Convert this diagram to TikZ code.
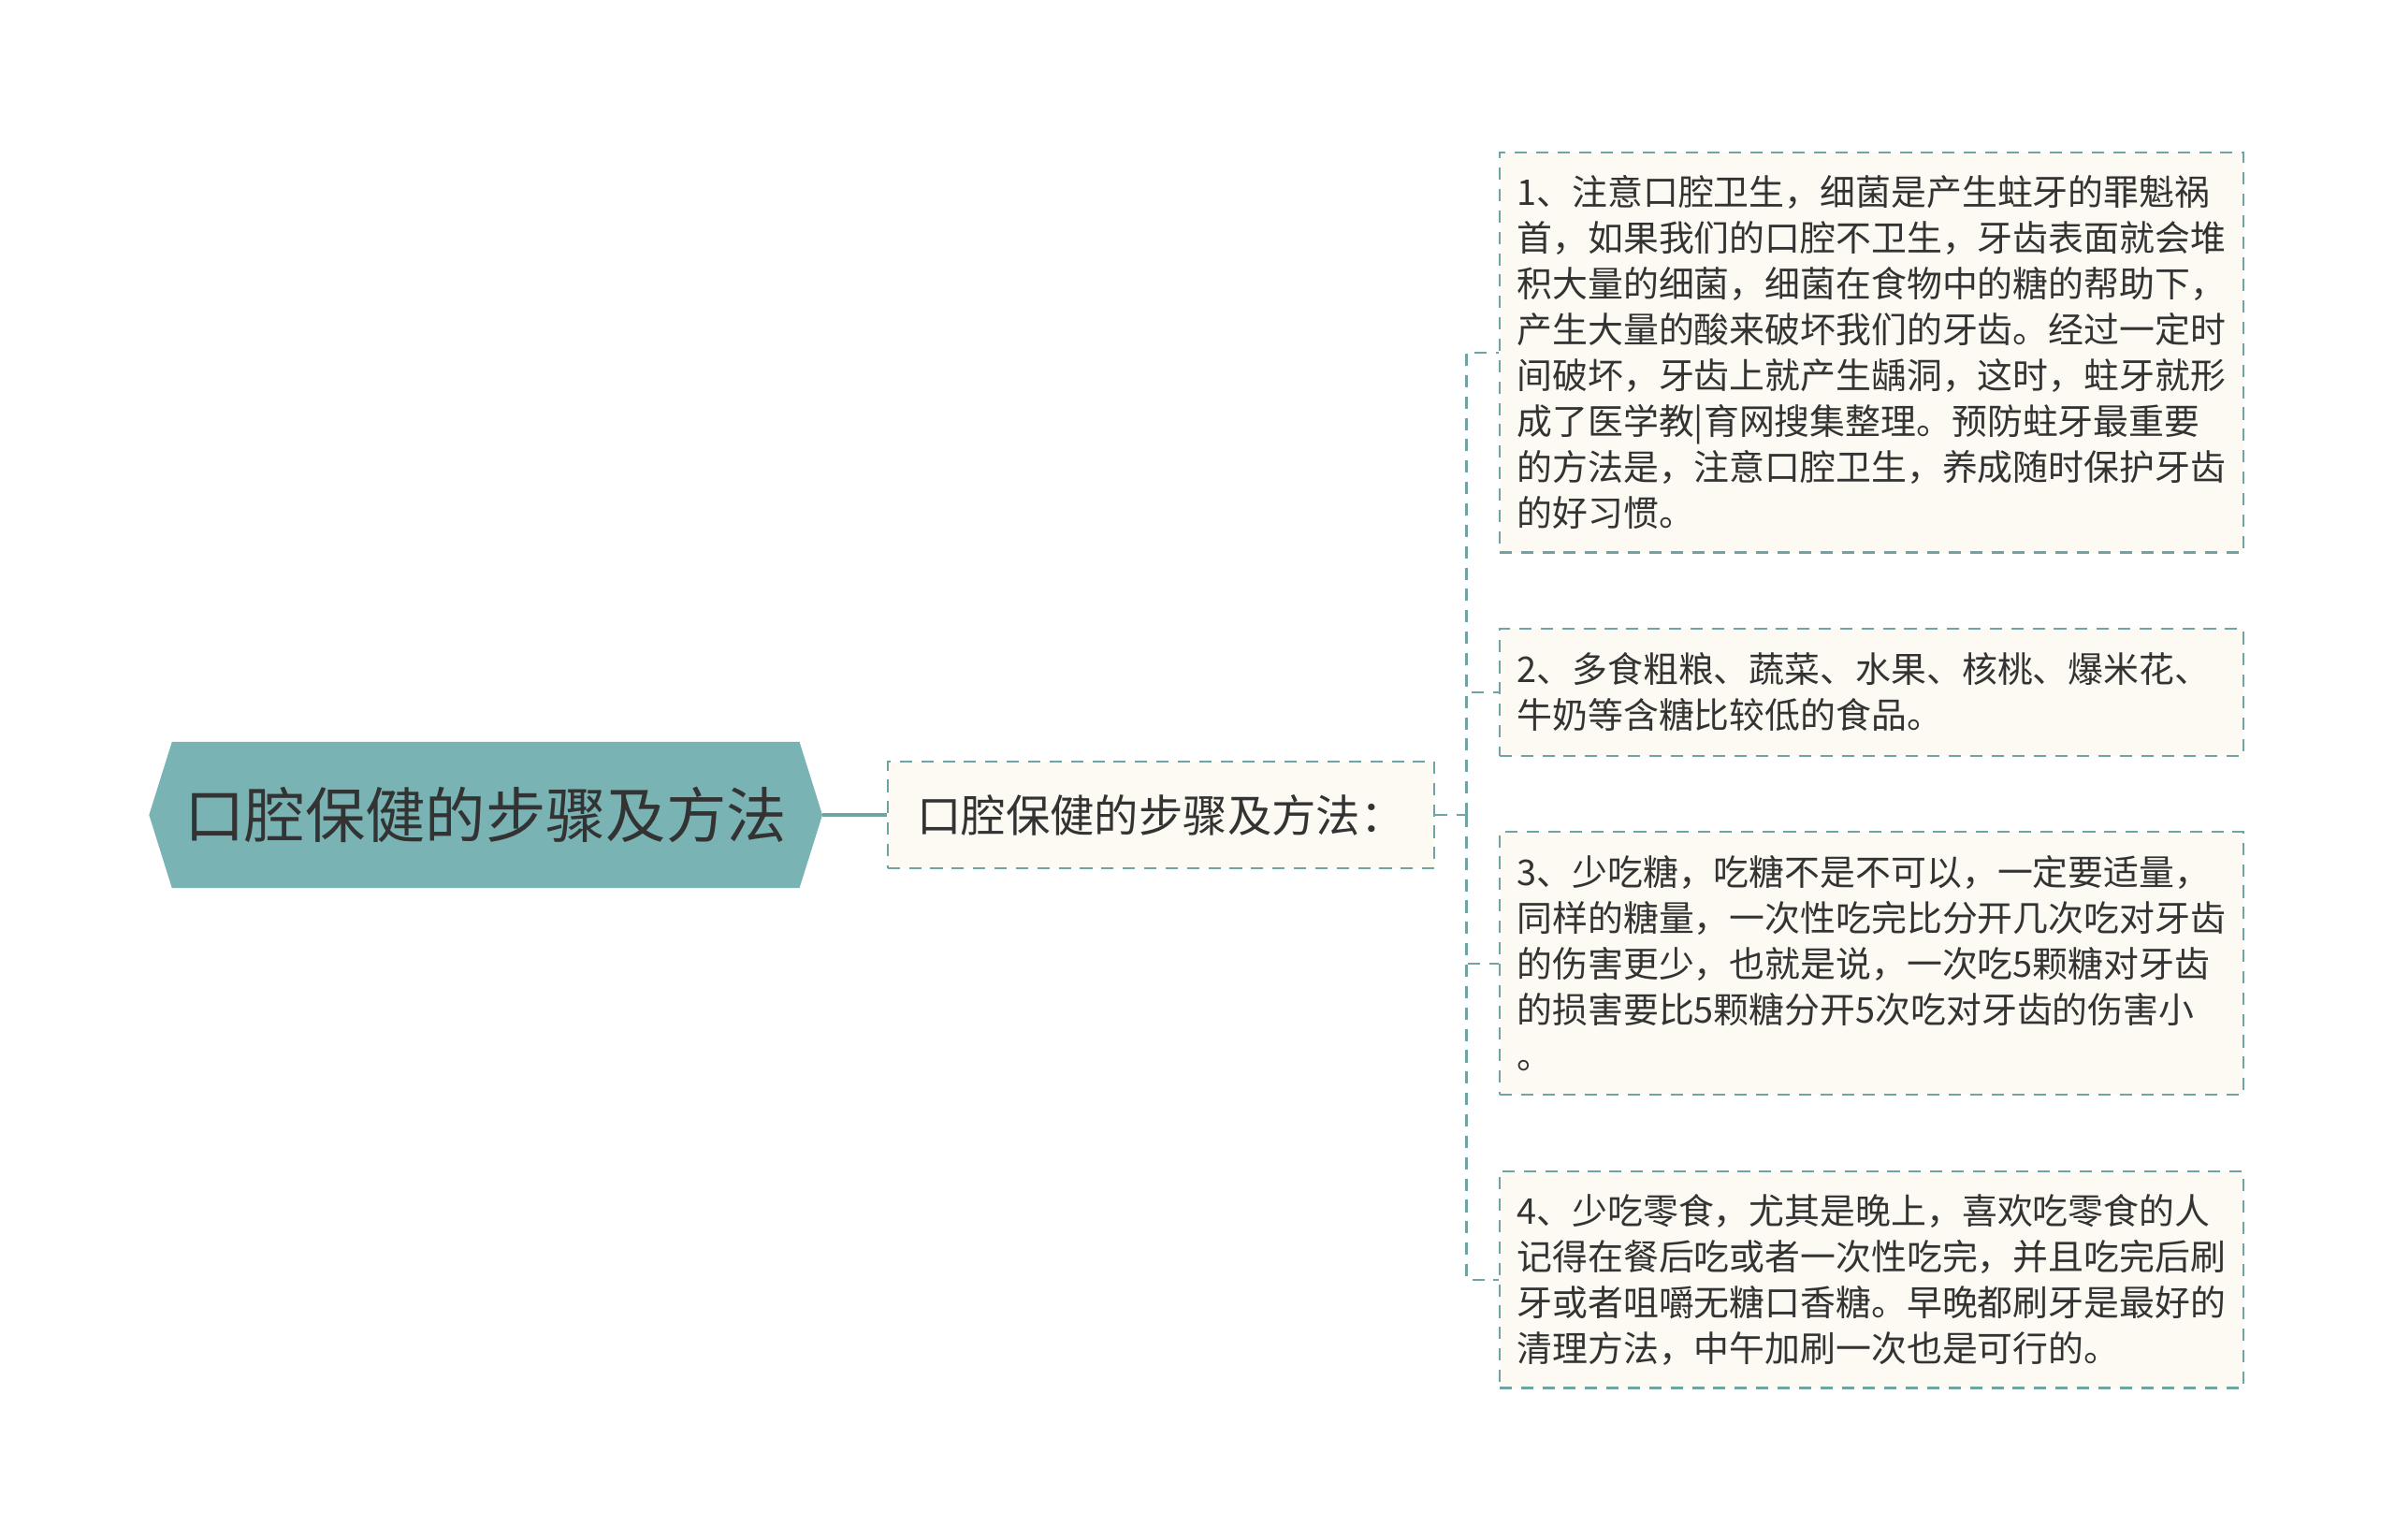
\documentclass[tikz,border=0pt]{standalone}
\usepackage{fontspec}
\setmainfont{Noto Sans CJK SC}
\usepackage{xcolor}
\usepackage{tikz}
\usetikzlibrary{positioning, calc, backgrounds}

\definecolor{tealfill}{RGB}{122,179,179}
\definecolor{tealline}{RGB}{110,164,164}
\definecolor{creamfill}{RGB}{252,250,242}
\definecolor{inktext}{RGB}{51,51,51}

\begin{document}
\begin{tikzpicture}[
    x=0.5pt, y=-0.5pt,
    topic/.style={rectangle, minimum width=205pt, minimum height=47.5pt, inner sep=0pt, text=inktext, font=\fontsize{19.7pt}{24pt}\selectfont},
    subtopic/.style={rectangle, draw=tealline, dash pattern=on 4pt off 3pt, line width=0.7pt, fill=creamfill, minimum width=179pt, minimum height=35pt, inner sep=0pt, text=inktext, font=\fontsize{14.5pt}{18pt}\selectfont},
    leaf/.style={rectangle, anchor=north west, draw=tealline, dash pattern=on 4pt off 3pt, line width=0.7pt, fill=creamfill, text width=232pt, inner xsep=5.75pt, inner ysep=0pt, align=left, text=inktext, font=\fontsize{11.6pt}{15pt}\selectfont},
    link/.style={draw=tealline, line width=1pt},
    branch/.style={draw=tealline, line width=0.7pt, dash pattern=on 4pt off 3pt}
]
    \useasboundingbox (0,0) rectangle (1568,1008);

    % central topic
    \node[topic] (root) at (318,533.5) {口腔保健的步骤及方法};
    \coordinate (rootl) at ($(root.west)+(-15,0)$);
    \coordinate (rootr) at ($(root.east)+(15,0)$);
    \begin{scope}[on background layer]
        \fill[tealfill] (rootl) -- (root.north west) -- (root.north east) -- (rootr) -- (root.south east) -- (root.south west) -- cycle;
    \end{scope}

    \node[subtopic, right=28.5pt of root] (sub) {口腔保健的步骤及方法：};
    \coordinate (hub) at (960,533.5);

    % the four points
    \node[leaf, minimum height=131pt] (leaf1) at (981,99) {1、注意口腔卫生，细菌是产生蛀牙的罪魁祸\\首，如果我们的口腔不卫生，牙齿表面就会堆\\积大量的细菌，细菌在食物中的糖的帮助下，\\产生大量的酸来破坏我们的牙齿。经过一定时\\间破坏，牙齿上就产生龋洞，这时，蛀牙就形\\成了医学教|育网搜集整理。预防蛀牙最重要\\的方法是，注意口腔卫生，养成随时保护牙齿\\的好习惯。};
    \node[leaf, minimum height=41.5pt] (leaf2) at (981,411) {2、多食粗粮、蔬菜、水果、核桃、爆米花、\\牛奶等含糖比较低的食品。};
    \node[leaf, minimum height=86pt] (leaf3) at (981,544) {3、少吃糖，吃糖不是不可以，一定要适量，\\同样的糖量，一次性吃完比分开几次吃对牙齿\\的伤害更少，也就是说，一次吃5颗糖对牙齿\\的损害要比5颗糖分开5次吃对牙齿的伤害小\\。};
    \node[leaf, minimum height=71pt] (leaf4) at (981,766) {4、少吃零食，尤其是晚上，喜欢吃零食的人\\记得在餐后吃或者一次性吃完，并且吃完后刷\\牙或者咀嚼无糖口香糖。早晚都刷牙是最好的\\清理方法，中午加刷一次也是可行的。};

    \draw[link] (rootr) -- (sub.west);
    \draw[branch] (sub.east) -- (hub);
    \foreach \i in {1,...,4}
        \draw[branch] (hub) |- (leaf\i.west);

\end{tikzpicture}
\end{document}
